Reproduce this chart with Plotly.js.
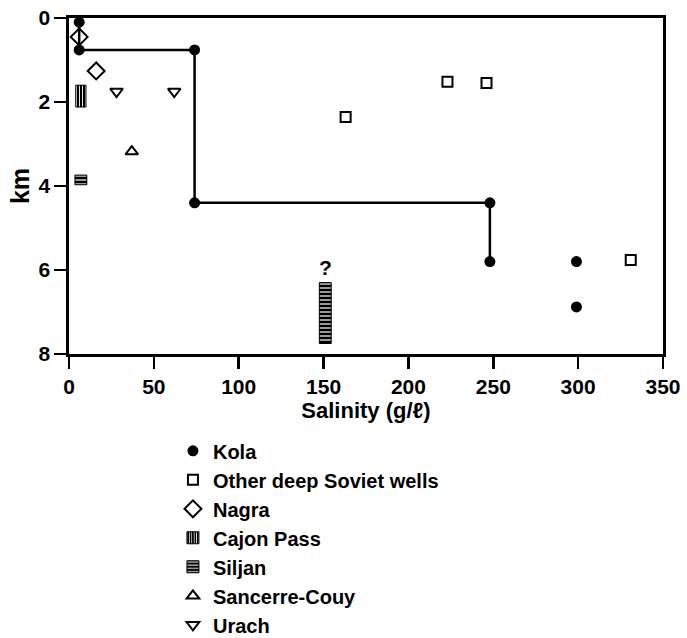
<!DOCTYPE html>
<html>
<head>
<meta charset="utf-8">
<script src="https://cdn.plot.ly/plotly-3.0.1.min.js"></script>
<style>html,body{margin:0;padding:0;background:#fff;}#chart{width:687px;height:638px;}</style>
</head>
<body>
<div id="chart"></div>
<script>
// Kola well points (salinity g/l, depth km)
const kolaX = [6, 6, 74, 74, 248, 248, 299, 299];
const kolaY = [0.1, 0.76, 0.76, 4.4, 4.4, 5.8, 5.8, 6.88];
// Kola step profile
const kolaLineX = [6, 6, 74, 74, 248, 248];
const kolaLineY = [0.0, 0.76, 0.76, 4.4, 4.4, 5.8];
// Other deep Soviet wells
const sovietX = [163, 223, 246, 331];
const sovietY = [2.36, 1.52, 1.55, 5.76];
// Nagra
const nagraX = [6, 16];
const nagraY = [0.45, 1.26];
// Cajon Pass (depth ranges)
const cajonX = [7];
const cajonTop = [1.6];
const cajonBottom = [2.12];
// Siljan (depth ranges)
const siljanX = [7, 151];
const siljanTop = [3.74, 6.3];
const siljanBottom = [3.97, 7.75];
// Sancerre-Couy
const sancX = [37];
const sancY = [3.18];
// Urach
const urachX = [28, 62];
const urachY = [1.75, 1.75];

const FONT = 'Liberation Sans, Arial, sans-serif';

const traces = [
  {x: kolaLineX, y: kolaLineY, mode: 'lines', line: {color: 'black', width: 2.5}, showlegend: false, hoverinfo: 'skip'},
  {x: kolaX, y: kolaY, mode: 'markers', name: 'Kola', legendgroup: 'a',
   marker: {symbol: 'circle', size: 11, color: 'black'}},
  {x: sovietX, y: sovietY, mode: 'markers', name: 'Other deep Soviet wells', legendgroup: 'b',
   marker: {symbol: 'square-open', size: 10, color: 'black', line: {width: 2}}},
  {x: nagraX, y: nagraY, mode: 'markers', name: 'Nagra', legendgroup: 'c',
   marker: {symbol: 'diamond-open', size: 13, color: 'black', line: {width: 2}}},
  {type: 'bar', x: cajonX, base: cajonTop, y: cajonBottom.map((v, i) => v - cajonTop[i]),
   width: 6, name: 'Cajon Pass', legendgroup: 'd',
   marker: {color: 'black', line: {color: 'black', width: 1},
            pattern: {shape: '|', bgcolor: 'black', fgcolor: 'white', size: 3, solidity: 0.3}}},
  {type: 'bar', x: siljanX, base: siljanTop, y: siljanBottom.map((v, i) => v - siljanTop[i]),
   width: 7, name: 'Siljan', legendgroup: 'e',
   marker: {color: 'black', line: {color: 'black', width: 1},
            pattern: {shape: '-', bgcolor: 'black', fgcolor: 'white', size: 4, solidity: 0.3}}},
  {x: sancX, y: sancY, mode: 'markers', name: 'Sancerre-Couy', legendgroup: 'f',
   marker: {symbol: 'triangle-up-open', size: 11, color: 'black', line: {width: 2}}},
  {x: urachX, y: urachY, mode: 'markers', name: 'Urach', legendgroup: 'g',
   marker: {symbol: 'triangle-down-open', size: 11, color: 'black', line: {width: 2}}}
];

const layout = {
  width: 687, height: 638,
  margin: {l: 69, r: 24, t: 18, b: 284, autoexpand: false},
  paper_bgcolor: 'white', plot_bgcolor: 'white',
  font: {family: FONT, size: 21, color: 'black', weight: 'bold'},
  barmode: 'overlay',
  showlegend: true,
  legend: {x: 0.175, xanchor: 'left', y: -0.23, yanchor: 'top',
           traceorder: 'grouped', tracegroupgap: 0,
           font: {family: FONT, size: 20, color: 'black', weight: 'bold'},
           bgcolor: 'rgba(0,0,0,0)', itemwidth: 30},
  xaxis: {range: [0, 350], tickvals: [0, 50, 100, 150, 200, 250, 300, 350],
          showgrid: false, zeroline: false, showline: true, linecolor: 'black', linewidth: 2.7,
          mirror: true, ticks: 'outside', ticklen: 12, tickwidth: 2.7, tickcolor: 'black',
          tickfont: {size: 21, weight: 'bold'},
          title: {text: 'Salinity (g/ℓ)', font: {size: 22, weight: 'bold'}, standoff: 2}},
  yaxis: {range: [8, 0], tickvals: [0, 2, 4, 6, 8],
          showgrid: false, zeroline: false, showline: true, linecolor: 'black', linewidth: 2.7,
          mirror: true, ticks: 'outside', ticklen: 12, tickwidth: 2.7, tickcolor: 'black',
          tickfont: {size: 21, weight: 'bold'},
          title: {text: 'km', font: {size: 25, weight: 'bold'}, standoff: 2}},
  annotations: [{x: 151, y: 5.93, xref: 'x', yref: 'y', text: '?', showarrow: false,
                 font: {family: FONT, size: 21, color: 'black', weight: 'bold'}}]
};

Plotly.newPlot('chart', traces, layout, {displayModeBar: false, staticPlot: true});
</script>
</body>
</html>
